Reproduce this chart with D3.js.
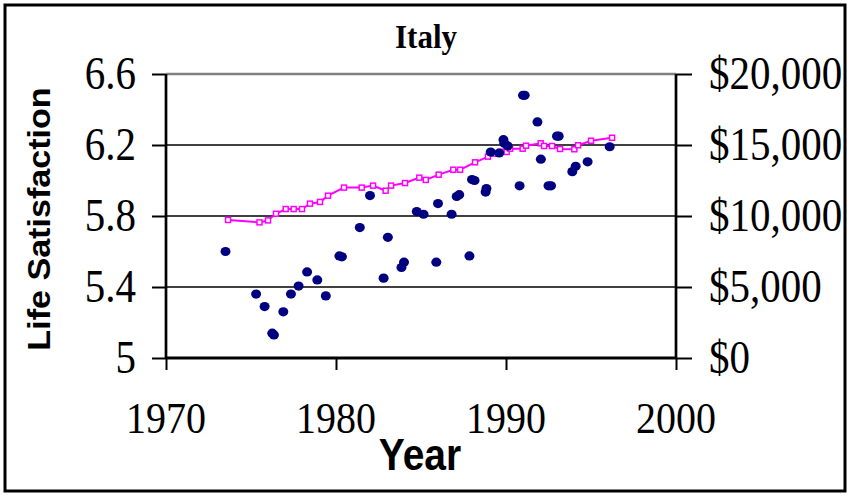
<!DOCTYPE html>
<html><head><meta charset="utf-8">
<script src="https://cdn.jsdelivr.net/npm/d3@7"></script>
<style>body{margin:0;background:#fff}svg{display:block}</style>
</head><body>
<svg id="c" width="848" height="495"></svg>
<script>
// Life satisfaction observations: [year, score]
const satYears = [1973.5,1975.3,1975.8,1976.25,1976.35,1976.9,1977.35,1977.8,1978.3,1978.9,1979.4,1980.2,1980.35,1981.4,1982.0,1982.8,1983.05,1983.85,1984.0,1984.75,1985.15,1985.9,1986.0,1986.8,1987.1,1987.25,1987.85,1988.0,1988.15,1988.8,1988.85,1989.1,1989.6,1989.85,1989.9,1990.1,1990.8,1991.0,1991.1,1991.85,1992.05,1992.5,1992.65,1993.0,1993.1,1993.9,1994.1,1994.8,1996.1];
const satValues = [5.60,5.36,5.29,5.14,5.13,5.26,5.36,5.405,5.485,5.44,5.35,5.575,5.57,5.735,5.915,5.45,5.68,5.51,5.54,5.825,5.81,5.54,5.87,5.81,5.91,5.92,5.575,6.005,6.00,5.935,5.955,6.16,6.155,6.23,6.21,6.195,5.97,6.48,6.48,6.33,6.12,5.97,5.97,6.25,6.25,6.05,6.08,6.105,6.19];
// GDP per capita (US$)
const gdpYears = [1973.65,1975.5,1976.0,1976.47,1977.04,1977.51,1978.0,1978.47,1979.06,1979.53,1980.47,1981.51,1982.18,1982.92,1983.24,1984.06,1984.9,1985.28,1986.04,1986.9,1987.3,1988.18,1988.94,1989.3,1989.69,1990.04,1990.24,1990.98,1991.18,1992.04,1992.24,1992.71,1993.18,1994.02,1994.24,1995.0,1996.24];
const gdpValues = [9720,9550,9690,10160,10490,10490,10490,10870,10990,11430,12000,12000,12140,11780,12140,12320,12700,12540,12910,13260,13260,13780,14180,14390,14530,14510,14740,14740,14950,15120,14930,14930,14720,14700,14980,15300,15510];
const xTicks = [1970,1980,1990,2000];
const yTicks = [5,5.4,5.8,6.2,6.6];
const y2Ticks = [0,5000,10000,15000,20000];
const title = "Italy", xTitle = "Year", yTitle = "Life Satisfaction";

const svg = d3.select("#c");
const L=166,R=676,T=74,B=358;
const x = d3.scaleLinear().domain([1970,2000]).range([L,R]);
const y = d3.scaleLinear().domain([5,6.6]).range([B,T]);
const y2 = d3.scaleLinear().domain([0,20000]).range([B,T]);
const serif = "'Liberation Serif','Times New Roman',serif";
const sans = "'Liberation Sans',Arial,sans-serif";
const SY = 1.12;

// outer border
svg.append("rect").attr("x",5).attr("y",5).attr("width",840).attr("height",486)
  .attr("fill","none").attr("stroke","#000").attr("stroke-width",3);

// gridlines
svg.append("g").selectAll("line").data(yTicks.filter(d=>d>5)).join("line")
  .attr("x1",L).attr("x2",R).attr("y1",d=>y(d)).attr("y2",d=>y(d))
  .attr("stroke",d=>d===6.6?"#808080":"#000").attr("stroke-width",d=>d===6.6?2.5:1.5);

// axes
const axL = svg.append("g").attr("transform",`translate(${L},0)`)
  .call(d3.axisLeft(y).tickValues(yTicks).tickSize(14).tickFormat(""));
const axR = svg.append("g").attr("transform",`translate(${R},0)`)
  .call(d3.axisRight(y2).tickValues(y2Ticks).tickSize(16).tickFormat(""));
const axB = svg.append("g").attr("transform",`translate(0,${B})`)
  .call(d3.axisBottom(x).tickValues(xTicks).tickSize(12).tickFormat(""));
[axL,axR,axB].forEach(a=>{
  a.select(".domain").attr("stroke","#000").attr("stroke-width",2.7);
  a.selectAll(".tick line").attr("stroke","#000").attr("stroke-width",2);
});
axB.select(".domain").attr("d",`M${L},0H${R}`).attr("stroke-width",3);
axL.select(".domain").attr("d",`M0,${T}V${B}`);
axR.select(".domain").attr("d",`M0,${T}V${B}`);

// tick labels
const fs = 41;
svg.append("g").selectAll("text").data(yTicks).join("text")
  .attr("transform",d=>`translate(136,${y(d)}) scale(1,${SY})`)
  .attr("y",fs*0.33).attr("text-anchor","end")
  .attr("font-family",serif).attr("font-size",fs).text(d=>d3.format("")(+d.toFixed(1)));
svg.append("g").selectAll("text").data(y2Ticks).join("text")
  .attr("transform",d=>`translate(709,${y2(d)}) scale(1,${SY})`)
  .attr("y",fs*0.33).attr("text-anchor","start")
  .attr("font-family",serif).attr("font-size",fs).text(d=>"$"+d3.format(",")(d));
svg.append("g").selectAll("text").data(xTicks).join("text")
  .attr("transform",d=>`translate(${x(d)},433) scale(1,${SY})`)
  .attr("text-anchor","middle")
  .attr("font-family",serif).attr("font-size",fs-1).text(d=>d);

// titles
svg.append("text").attr("transform",`translate(426,48) scale(1,1.08)`)
  .attr("text-anchor","middle").attr("font-family",serif).attr("font-weight","bold")
  .attr("font-size",31).text(title);
svg.append("text").attr("transform",`translate(420,470) scale(1,${SY})`)
  .attr("text-anchor","middle").attr("font-family",sans).attr("font-weight","bold")
  .attr("font-size",39).text(xTitle);
svg.append("text").attr("transform",`translate(50,219) rotate(-90) scale(1.1,1)`)
  .attr("text-anchor","middle").attr("font-family",sans).attr("font-weight","bold")
  .attr("font-size",31).text(yTitle);

// GDP line
const gdp = gdpYears.map((d,i)=>[d,gdpValues[i]]);
svg.append("path").datum(gdp)
  .attr("d",d3.line().x(d=>x(d[0])).y(d=>y2(d[1])))
  .attr("fill","none").attr("stroke","#FF00FF").attr("stroke-width",2);
svg.append("g").selectAll("rect").data(gdp).join("rect")
  .attr("x",d=>x(d[0])-2.5).attr("y",d=>y2(d[1])-2.5).attr("width",5).attr("height",5)
  .attr("fill","#fff").attr("stroke","#FF00FF").attr("stroke-width",1.5);

// satisfaction dots
const sat = satYears.map((d,i)=>[d,satValues[i]]);
svg.append("g").selectAll("ellipse").data(sat).join("ellipse")
  .attr("cx",d=>x(d[0])).attr("cy",d=>y(d[1])).attr("rx",5).attr("ry",4.6)
  .attr("fill","#000080");
</script>
</body></html>
